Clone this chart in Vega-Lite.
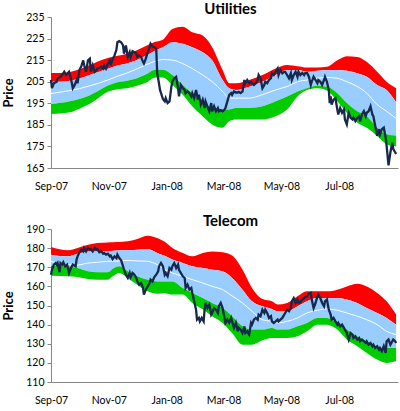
{
  "$schema": "https://vega.github.io/schema/vega-lite/v6.json",
  "padding": {"left": 2, "right": 4, "top": 2, "bottom": 1},
  "config": {
    "view": {"stroke": null},
    "font": "Lato",
    "axis": {"grid": false, "domainColor": "#868686", "tickColor": "#868686", "labelColor": "#000000", "labelFontSize": 10.5, "titleFontSize": 13, "titleFontWeight": "bold", "titleColor": "#000000"},
    "axisY": {"tickSize": 4, "labelPadding": 3, "titlePadding": 10},
    "title": {"fontSize": 15, "fontWeight": "bold", "color": "#000000"},
    "concat": {"spacing": 22}
  },
  "datasets": {
    "util_band": [
      {"date": "2007-09-01", "redTop": 209, "blueTop": 205, "ma": 199.5, "blueBot": 194.5, "greenBot": 190},
      {"date": "2007-09-11", "redTop": 209, "blueTop": 205, "ma": 200.2, "blueBot": 195.2, "greenBot": 190.3},
      {"date": "2007-09-21", "redTop": 209.5, "blueTop": 205.5, "ma": 200.9, "blueBot": 196, "greenBot": 190.8},
      {"date": "2007-10-01", "redTop": 210.8, "blueTop": 206.5, "ma": 201.8, "blueBot": 197, "greenBot": 192.5},
      {"date": "2007-10-11", "redTop": 212.5, "blueTop": 208, "ma": 203, "blueBot": 198.5, "greenBot": 194.5},
      {"date": "2007-10-21", "redTop": 214.5, "blueTop": 209.5, "ma": 204.3, "blueBot": 200.8, "greenBot": 197.5},
      {"date": "2007-10-31", "redTop": 216, "blueTop": 211, "ma": 205.8, "blueBot": 203.2, "greenBot": 200.3},
      {"date": "2007-11-10", "redTop": 217, "blueTop": 212.5, "ma": 207.5, "blueBot": 204.8, "greenBot": 201.5},
      {"date": "2007-11-20", "redTop": 218, "blueTop": 213.5, "ma": 209, "blueBot": 205.5, "greenBot": 202},
      {"date": "2007-11-30", "redTop": 219.5, "blueTop": 215, "ma": 210.8, "blueBot": 206.5, "greenBot": 203},
      {"date": "2007-12-10", "redTop": 221.5, "blueTop": 217, "ma": 212.8, "blueBot": 208.3, "greenBot": 204.5},
      {"date": "2007-12-20", "redTop": 223.5, "blueTop": 219.5, "ma": 214.5, "blueBot": 210.5, "greenBot": 207},
      {"date": "2007-12-28", "redTop": 224.5, "blueTop": 221, "ma": 215.3, "blueBot": 210.5, "greenBot": 207},
      {"date": "2008-01-07", "redTop": 229.4, "blueTop": 223.3, "ma": 215, "blueBot": 208.1, "greenBot": 203.5},
      {"date": "2008-01-18", "redTop": 230.5, "blueTop": 222.6, "ma": 213.4, "blueBot": 203.5, "greenBot": 198.9},
      {"date": "2008-01-28", "redTop": 227.9, "blueTop": 221, "ma": 211.1, "blueBot": 199.7, "greenBot": 193.6},
      {"date": "2008-02-08", "redTop": 226.4, "blueTop": 218.7, "ma": 208.1, "blueBot": 195.9, "greenBot": 189},
      {"date": "2008-02-18", "redTop": 221, "blueTop": 214.9, "ma": 205, "blueBot": 192.8, "greenBot": 185.2},
      {"date": "2008-02-29", "redTop": 210.4, "blueTop": 205.8, "ma": 200.5, "blueBot": 192.1, "greenBot": 183.7},
      {"date": "2008-03-07", "redTop": 204.3, "blueTop": 202, "ma": 197.4, "blueBot": 192.1, "greenBot": 186.7},
      {"date": "2008-03-14", "redTop": 204.3, "blueTop": 201.2, "ma": 197.4, "blueBot": 192.8, "greenBot": 187.5},
      {"date": "2008-03-28", "redTop": 205.8, "blueTop": 202.7, "ma": 197.4, "blueBot": 192.8, "greenBot": 187.5},
      {"date": "2008-04-11", "redTop": 208.1, "blueTop": 205, "ma": 199, "blueBot": 193.6, "greenBot": 187.5},
      {"date": "2008-04-25", "redTop": 211.1, "blueTop": 208.1, "ma": 201.2, "blueBot": 195.9, "greenBot": 189},
      {"date": "2008-05-07", "redTop": 212.7, "blueTop": 210.4, "ma": 202.8, "blueBot": 198.2, "greenBot": 192.1},
      {"date": "2008-05-18", "redTop": 212.2, "blueTop": 210.4, "ma": 205, "blueBot": 200.5, "greenBot": 198.2},
      {"date": "2008-05-28", "redTop": 211.6, "blueTop": 209.6, "ma": 205.8, "blueBot": 202, "greenBot": 201.2},
      {"date": "2008-06-08", "redTop": 211.6, "blueTop": 210.1, "ma": 206.6, "blueBot": 203.1, "greenBot": 202},
      {"date": "2008-06-18", "redTop": 211.9, "blueTop": 210.4, "ma": 207, "blueBot": 202.7, "greenBot": 200.9},
      {"date": "2008-06-29", "redTop": 214.9, "blueTop": 210.4, "ma": 206.6, "blueBot": 199.7, "greenBot": 195.9},
      {"date": "2008-07-09", "redTop": 216.8, "blueTop": 210.1, "ma": 205, "blueBot": 195.1, "greenBot": 190.6},
      {"date": "2008-07-20", "redTop": 216.5, "blueTop": 208.9, "ma": 202.8, "blueBot": 191.3, "greenBot": 186},
      {"date": "2008-07-30", "redTop": 214.2, "blueTop": 207.3, "ma": 199.7, "blueBot": 189, "greenBot": 183.7},
      {"date": "2008-08-10", "redTop": 209.6, "blueTop": 203.5, "ma": 194.4, "blueBot": 183.7, "greenBot": 179.9},
      {"date": "2008-08-20", "redTop": 205, "blueTop": 201.2, "ma": 191.3, "blueBot": 180.6, "greenBot": 176},
      {"date": "2008-08-30", "redTop": 202, "blueTop": 195.5, "ma": 188, "blueBot": 180, "greenBot": 175}
    ],
    "util_price": [
      {"date": "2007-09-01", "price": 205.8}, {"date": "2007-09-02", "price": 202}, {"date": "2007-09-04", "price": 204.3},
      {"date": "2007-09-07", "price": 205}, {"date": "2007-09-08", "price": 206.6}, {"date": "2007-09-11", "price": 207.3},
      {"date": "2007-09-14", "price": 208.9}, {"date": "2007-09-15", "price": 209.6}, {"date": "2007-09-17", "price": 208.1},
      {"date": "2007-09-20", "price": 209.6}, {"date": "2007-09-22", "price": 206.6}, {"date": "2007-09-24", "price": 202},
      {"date": "2007-09-26", "price": 203.5}, {"date": "2007-09-28", "price": 205.8}, {"date": "2007-09-29", "price": 204.3},
      {"date": "2007-10-01", "price": 210.4}, {"date": "2007-10-03", "price": 212.2}, {"date": "2007-10-05", "price": 214.9},
      {"date": "2007-10-06", "price": 212.6}, {"date": "2007-10-08", "price": 209.6}, {"date": "2007-10-10", "price": 214.9},
      {"date": "2007-10-12", "price": 215.7}, {"date": "2007-10-13", "price": 209.6}, {"date": "2007-10-15", "price": 212.6},
      {"date": "2007-10-17", "price": 209.6}, {"date": "2007-10-19", "price": 210.4}, {"date": "2007-10-20", "price": 211.1},
      {"date": "2007-10-24", "price": 211.9}, {"date": "2007-10-26", "price": 211.1}, {"date": "2007-10-27", "price": 212.6},
      {"date": "2007-10-29", "price": 211.1}, {"date": "2007-10-31", "price": 213.4}, {"date": "2007-11-02", "price": 214.9},
      {"date": "2007-11-03", "price": 212.6}, {"date": "2007-11-05", "price": 215.3}, {"date": "2007-11-07", "price": 217.2},
      {"date": "2007-11-09", "price": 219.8}, {"date": "2007-11-10", "price": 223.3}, {"date": "2007-11-12", "price": 223.8},
      {"date": "2007-11-14", "price": 223.3}, {"date": "2007-11-16", "price": 221.8}, {"date": "2007-11-17", "price": 218},
      {"date": "2007-11-19", "price": 221.8}, {"date": "2007-11-21", "price": 216.5}, {"date": "2007-11-23", "price": 218.7},
      {"date": "2007-11-24", "price": 216.5}, {"date": "2007-11-26", "price": 219.2}, {"date": "2007-11-28", "price": 218.7},
      {"date": "2007-11-30", "price": 218}, {"date": "2007-12-01", "price": 216.5}, {"date": "2007-12-03", "price": 217.2},
      {"date": "2007-12-05", "price": 216.5}, {"date": "2007-12-07", "price": 214.2}, {"date": "2007-12-08", "price": 213.4},
      {"date": "2007-12-10", "price": 215.7}, {"date": "2007-12-12", "price": 218.7}, {"date": "2007-12-14", "price": 221},
      {"date": "2007-12-15", "price": 222.6}, {"date": "2007-12-17", "price": 221.3}, {"date": "2007-12-19", "price": 221},
      {"date": "2007-12-21", "price": 220.3}, {"date": "2007-12-22", "price": 208.9}, {"date": "2007-12-23", "price": 206.6},
      {"date": "2007-12-25", "price": 201.2}, {"date": "2007-12-28", "price": 197}, {"date": "2007-12-30", "price": 195.9},
      {"date": "2007-12-31", "price": 197.4}, {"date": "2008-01-02", "price": 195.1}, {"date": "2008-01-04", "price": 195.9},
      {"date": "2008-01-06", "price": 202.8}, {"date": "2008-01-07", "price": 205}, {"date": "2008-01-09", "price": 206.6},
      {"date": "2008-01-11", "price": 207.3}, {"date": "2008-01-13", "price": 202}, {"date": "2008-01-14", "price": 198.2},
      {"date": "2008-01-16", "price": 203.5}, {"date": "2008-01-18", "price": 202}, {"date": "2008-01-20", "price": 201.2},
      {"date": "2008-01-21", "price": 199.7}, {"date": "2008-01-23", "price": 200.5}, {"date": "2008-01-25", "price": 199.7},
      {"date": "2008-01-27", "price": 198.2}, {"date": "2008-01-28", "price": 199.7}, {"date": "2008-01-30", "price": 197.4},
      {"date": "2008-02-01", "price": 201.2}, {"date": "2008-02-03", "price": 196.7}, {"date": "2008-02-04", "price": 199},
      {"date": "2008-02-06", "price": 194.4}, {"date": "2008-02-08", "price": 196.7}, {"date": "2008-02-10", "price": 192.8},
      {"date": "2008-02-11", "price": 195.9}, {"date": "2008-02-13", "price": 193.6}, {"date": "2008-02-15", "price": 191.3},
      {"date": "2008-02-17", "price": 195.1}, {"date": "2008-02-18", "price": 191.3}, {"date": "2008-02-20", "price": 193.6},
      {"date": "2008-02-22", "price": 191.3}, {"date": "2008-02-24", "price": 192.8}, {"date": "2008-02-25", "price": 191.3},
      {"date": "2008-02-27", "price": 191.8}, {"date": "2008-02-29", "price": 191.3}, {"date": "2008-03-02", "price": 192.1},
      {"date": "2008-03-03", "price": 192.8}, {"date": "2008-03-05", "price": 195.9}, {"date": "2008-03-07", "price": 198.9},
      {"date": "2008-03-09", "price": 199.7}, {"date": "2008-03-10", "price": 198.9}, {"date": "2008-03-12", "price": 200.5},
      {"date": "2008-03-14", "price": 200}, {"date": "2008-03-16", "price": 200}, {"date": "2008-03-17", "price": 200.3},
      {"date": "2008-03-19", "price": 199.7}, {"date": "2008-03-21", "price": 200.5}, {"date": "2008-03-23", "price": 205.8},
      {"date": "2008-03-24", "price": 204.3}, {"date": "2008-03-26", "price": 205.8}, {"date": "2008-03-28", "price": 204.3},
      {"date": "2008-03-30", "price": 205}, {"date": "2008-03-31", "price": 204.3}, {"date": "2008-04-02", "price": 203.5},
      {"date": "2008-04-04", "price": 204.3}, {"date": "2008-04-06", "price": 205.8}, {"date": "2008-04-07", "price": 208.1},
      {"date": "2008-04-09", "price": 206.6}, {"date": "2008-04-11", "price": 202}, {"date": "2008-04-13", "price": 203.5},
      {"date": "2008-04-14", "price": 205}, {"date": "2008-04-16", "price": 204.3}, {"date": "2008-04-18", "price": 205.8},
      {"date": "2008-04-20", "price": 206.6}, {"date": "2008-04-21", "price": 208.9}, {"date": "2008-04-23", "price": 208.1},
      {"date": "2008-04-25", "price": 209.6}, {"date": "2008-04-27", "price": 211.1}, {"date": "2008-04-28", "price": 208.1},
      {"date": "2008-04-30", "price": 210.4}, {"date": "2008-05-02", "price": 208.9}, {"date": "2008-05-04", "price": 209.6},
      {"date": "2008-05-05", "price": 209.6}, {"date": "2008-05-07", "price": 208.1}, {"date": "2008-05-09", "price": 206.6},
      {"date": "2008-05-11", "price": 208.9}, {"date": "2008-05-12", "price": 205.8}, {"date": "2008-05-14", "price": 208.1},
      {"date": "2008-05-16", "price": 209.6}, {"date": "2008-05-18", "price": 207.3}, {"date": "2008-05-19", "price": 209.6},
      {"date": "2008-05-21", "price": 208.1}, {"date": "2008-05-23", "price": 209.1}, {"date": "2008-05-25", "price": 208.1},
      {"date": "2008-05-26", "price": 208.9}, {"date": "2008-05-28", "price": 209.1}, {"date": "2008-05-30", "price": 207.3},
      {"date": "2008-06-01", "price": 203.5}, {"date": "2008-06-02", "price": 205}, {"date": "2008-06-04", "price": 207.3},
      {"date": "2008-06-06", "price": 205.8}, {"date": "2008-06-08", "price": 204.3}, {"date": "2008-06-09", "price": 205.8},
      {"date": "2008-06-11", "price": 205}, {"date": "2008-06-13", "price": 203.5}, {"date": "2008-06-15", "price": 205.8},
      {"date": "2008-06-16", "price": 207.3}, {"date": "2008-06-18", "price": 205}, {"date": "2008-06-20", "price": 201.2},
      {"date": "2008-06-21", "price": 195.1}, {"date": "2008-06-22", "price": 198.2}, {"date": "2008-06-23", "price": 194.4},
      {"date": "2008-06-25", "price": 196.7}, {"date": "2008-06-27", "price": 197.4}, {"date": "2008-06-29", "price": 192.1},
      {"date": "2008-06-30", "price": 189.8}, {"date": "2008-07-02", "price": 192.8}, {"date": "2008-07-04", "price": 190.6},
      {"date": "2008-07-06", "price": 192.1}, {"date": "2008-07-07", "price": 187.5}, {"date": "2008-07-09", "price": 185.2},
      {"date": "2008-07-11", "price": 190.6}, {"date": "2008-07-13", "price": 188.3}, {"date": "2008-07-15", "price": 187.5},
      {"date": "2008-07-16", "price": 188.3}, {"date": "2008-07-18", "price": 186.7}, {"date": "2008-07-20", "price": 188.3},
      {"date": "2008-07-22", "price": 189}, {"date": "2008-07-23", "price": 186.7}, {"date": "2008-07-25", "price": 189.8},
      {"date": "2008-07-27", "price": 191.3}, {"date": "2008-07-29", "price": 189}, {"date": "2008-07-30", "price": 190.6},
      {"date": "2008-08-01", "price": 191.3}, {"date": "2008-08-03", "price": 193.6}, {"date": "2008-08-05", "price": 189.8},
      {"date": "2008-08-06", "price": 189}, {"date": "2008-08-08", "price": 184.5}, {"date": "2008-08-10", "price": 179.9},
      {"date": "2008-08-12", "price": 183}, {"date": "2008-08-13", "price": 180.6}, {"date": "2008-08-15", "price": 183},
      {"date": "2008-08-17", "price": 183.7}, {"date": "2008-08-19", "price": 179.1}, {"date": "2008-08-20", "price": 175.3},
      {"date": "2008-08-22", "price": 166.2}, {"date": "2008-08-24", "price": 172.3}, {"date": "2008-08-26", "price": 176.8},
      {"date": "2008-08-27", "price": 173.8}, {"date": "2008-08-29", "price": 172.3}, {"date": "2008-08-30", "price": 171.5}
    ],
    "tel_band": [
      {"date": "2007-09-01", "redTop": 180.6, "blueTop": 176.6, "ma": 173.1, "blueBot": 170.8, "greenBot": 165.6},
      {"date": "2007-09-19", "redTop": 178.9, "blueTop": 175.7, "ma": 171.4, "blueBot": 170.5, "greenBot": 165.3},
      {"date": "2007-09-29", "redTop": 180.1, "blueTop": 177, "ma": 171.2, "blueBot": 169.6, "greenBot": 164.9},
      {"date": "2007-10-10", "redTop": 181.8, "blueTop": 178.3, "ma": 172.2, "blueBot": 167.9, "greenBot": 163.9},
      {"date": "2007-10-20", "redTop": 182.7, "blueTop": 178.3, "ma": 172.6, "blueBot": 167.4, "greenBot": 163.5},
      {"date": "2007-10-31", "redTop": 183, "blueTop": 178.3, "ma": 173.1, "blueBot": 167.4, "greenBot": 163.5},
      {"date": "2007-11-06", "redTop": 183.1, "blueTop": 178.6, "ma": 173.2, "blueBot": 169.5, "greenBot": 165.5},
      {"date": "2007-11-12", "redTop": 183.2, "blueTop": 178.9, "ma": 173.3, "blueBot": 170.5, "greenBot": 167},
      {"date": "2007-11-18", "redTop": 183.4, "blueTop": 178.9, "ma": 173.5, "blueBot": 169, "greenBot": 165.5},
      {"date": "2007-11-24", "redTop": 183.8, "blueTop": 179, "ma": 173.5, "blueBot": 167, "greenBot": 163.2},
      {"date": "2007-12-01", "redTop": 184.8, "blueTop": 179.2, "ma": 173.3, "blueBot": 165.3, "greenBot": 160.9},
      {"date": "2007-12-12", "redTop": 186.5, "blueTop": 179.5, "ma": 173.1, "blueBot": 163.5, "greenBot": 157.4},
      {"date": "2007-12-22", "redTop": 185.3, "blueTop": 177.5, "ma": 171.4, "blueBot": 162.6, "greenBot": 156.2},
      {"date": "2007-12-30", "redTop": 183.3, "blueTop": 176, "ma": 168.9, "blueBot": 162.5, "greenBot": 156.4},
      {"date": "2008-01-07", "redTop": 180.1, "blueTop": 174, "ma": 167, "blueBot": 162.6, "greenBot": 155.7},
      {"date": "2008-01-18", "redTop": 177.5, "blueTop": 172.2, "ma": 165.3, "blueBot": 159.2, "greenBot": 155.7},
      {"date": "2008-01-28", "redTop": 175.7, "blueTop": 170.5, "ma": 163.5, "blueBot": 156.6, "greenBot": 151.3},
      {"date": "2008-02-08", "redTop": 177.5, "blueTop": 169.6, "ma": 161.8, "blueBot": 153.9, "greenBot": 148},
      {"date": "2008-02-18", "redTop": 178.3, "blueTop": 168.7, "ma": 160, "blueBot": 151.3, "greenBot": 144.4},
      {"date": "2008-02-29", "redTop": 177.8, "blueTop": 167.9, "ma": 158.3, "blueBot": 148.7, "greenBot": 140.9},
      {"date": "2008-03-10", "redTop": 176.1, "blueTop": 164.4, "ma": 155, "blueBot": 144.4, "greenBot": 135.6},
      {"date": "2008-03-21", "redTop": 168.7, "blueTop": 158.3, "ma": 151.3, "blueBot": 139.1, "greenBot": 129.5},
      {"date": "2008-03-31", "redTop": 159.2, "blueTop": 152.2, "ma": 147, "blueBot": 137.4, "greenBot": 129.5},
      {"date": "2008-04-11", "redTop": 153.4, "blueTop": 149.6, "ma": 142.6, "blueBot": 137.4, "greenBot": 131.8},
      {"date": "2008-04-21", "redTop": 152.2, "blueTop": 148.2, "ma": 141.7, "blueBot": 138.3, "greenBot": 133},
      {"date": "2008-04-27", "redTop": 150.5, "blueTop": 147, "ma": 140.9, "blueBot": 137.4, "greenBot": 133},
      {"date": "2008-05-07", "redTop": 151.3, "blueTop": 147, "ma": 141.7, "blueBot": 137.4, "greenBot": 133},
      {"date": "2008-05-18", "redTop": 154.8, "blueTop": 149.6, "ma": 143.5, "blueBot": 139.1, "greenBot": 133.9},
      {"date": "2008-05-28", "redTop": 157.4, "blueTop": 152.2, "ma": 146.1, "blueBot": 140.9, "greenBot": 136.5},
      {"date": "2008-06-08", "redTop": 157.4, "blueTop": 153.9, "ma": 147.5, "blueBot": 143.5, "greenBot": 140},
      {"date": "2008-06-18", "redTop": 157.4, "blueTop": 153.9, "ma": 148.2, "blueBot": 143.5, "greenBot": 140},
      {"date": "2008-06-29", "redTop": 158.3, "blueTop": 153.9, "ma": 147.5, "blueBot": 140.9, "greenBot": 137.4},
      {"date": "2008-07-09", "redTop": 160, "blueTop": 153.1, "ma": 146.1, "blueBot": 137.4, "greenBot": 132.2},
      {"date": "2008-07-20", "redTop": 161.4, "blueTop": 151.3, "ma": 144.4, "blueBot": 133.9, "greenBot": 128.7},
      {"date": "2008-07-30", "redTop": 160, "blueTop": 148.7, "ma": 142.6, "blueBot": 131.3, "greenBot": 125.2},
      {"date": "2008-08-10", "redTop": 156.6, "blueTop": 146.1, "ma": 140, "blueBot": 128.7, "greenBot": 121.7},
      {"date": "2008-08-20", "redTop": 152.2, "blueTop": 143.5, "ma": 136.5, "blueBot": 127.8, "greenBot": 120},
      {"date": "2008-08-30", "redTop": 145.3, "blueTop": 140, "ma": 134.8, "blueBot": 127.8, "greenBot": 120.8}
    ],
    "tel_price": [
      {"date": "2007-09-01", "price": 166.1}, {"date": "2007-09-02", "price": 168.7}, {"date": "2007-09-04", "price": 171.4},
      {"date": "2007-09-06", "price": 172.2}, {"date": "2007-09-07", "price": 171.4}, {"date": "2007-09-08", "price": 172.2},
      {"date": "2007-09-10", "price": 167.4}, {"date": "2007-09-11", "price": 172.2}, {"date": "2007-09-13", "price": 171.4},
      {"date": "2007-09-14", "price": 172.6}, {"date": "2007-09-16", "price": 170.5}, {"date": "2007-09-18", "price": 171.4},
      {"date": "2007-09-20", "price": 167}, {"date": "2007-09-22", "price": 169.6}, {"date": "2007-09-24", "price": 171.4},
      {"date": "2007-09-27", "price": 170.5}, {"date": "2007-09-28", "price": 174}, {"date": "2007-09-29", "price": 175.7},
      {"date": "2007-10-01", "price": 177.8}, {"date": "2007-10-03", "price": 179.2}, {"date": "2007-10-05", "price": 178.3},
      {"date": "2007-10-06", "price": 180.1}, {"date": "2007-10-08", "price": 178.3}, {"date": "2007-10-10", "price": 180.1},
      {"date": "2007-10-12", "price": 179.2}, {"date": "2007-10-13", "price": 179.5}, {"date": "2007-10-15", "price": 178.3},
      {"date": "2007-10-17", "price": 180.1}, {"date": "2007-10-19", "price": 179.2}, {"date": "2007-10-20", "price": 179.5},
      {"date": "2007-10-22", "price": 177.8}, {"date": "2007-10-24", "price": 178.3}, {"date": "2007-10-26", "price": 177.1},
      {"date": "2007-10-27", "price": 177.5}, {"date": "2007-10-29", "price": 176.6}, {"date": "2007-10-31", "price": 177.1},
      {"date": "2007-11-02", "price": 175.7}, {"date": "2007-11-03", "price": 176.1}, {"date": "2007-11-05", "price": 174.3},
      {"date": "2007-11-07", "price": 175.7}, {"date": "2007-11-09", "price": 174.8}, {"date": "2007-11-10", "price": 176.6},
      {"date": "2007-11-12", "price": 174.8}, {"date": "2007-11-14", "price": 173.6}, {"date": "2007-11-16", "price": 170.5},
      {"date": "2007-11-17", "price": 168.7}, {"date": "2007-11-19", "price": 166.1}, {"date": "2007-11-21", "price": 164.4},
      {"date": "2007-11-23", "price": 167}, {"date": "2007-11-24", "price": 164.9}, {"date": "2007-11-26", "price": 167},
      {"date": "2007-11-28", "price": 166.1}, {"date": "2007-11-30", "price": 164.4}, {"date": "2007-12-01", "price": 162.6},
      {"date": "2007-12-03", "price": 160.9}, {"date": "2007-12-05", "price": 161.8}, {"date": "2007-12-07", "price": 159.2},
      {"date": "2007-12-08", "price": 155.7}, {"date": "2007-12-10", "price": 158.3}, {"date": "2007-12-12", "price": 160},
      {"date": "2007-12-14", "price": 161.8}, {"date": "2007-12-15", "price": 163.5}, {"date": "2007-12-17", "price": 162.6},
      {"date": "2007-12-19", "price": 164.9}, {"date": "2007-12-21", "price": 166.1}, {"date": "2007-12-23", "price": 167.9},
      {"date": "2007-12-24", "price": 170.5}, {"date": "2007-12-26", "price": 172.2}, {"date": "2007-12-28", "price": 170.5},
      {"date": "2007-12-30", "price": 166.1}, {"date": "2007-12-31", "price": 167}, {"date": "2008-01-02", "price": 165.3},
      {"date": "2008-01-04", "price": 169.6}, {"date": "2008-01-06", "price": 168.7}, {"date": "2008-01-07", "price": 170.5},
      {"date": "2008-01-09", "price": 172.2}, {"date": "2008-01-11", "price": 169.6}, {"date": "2008-01-13", "price": 171.4},
      {"date": "2008-01-14", "price": 168.7}, {"date": "2008-01-16", "price": 167}, {"date": "2008-01-18", "price": 165.3},
      {"date": "2008-01-20", "price": 164.4}, {"date": "2008-01-21", "price": 159.2}, {"date": "2008-01-23", "price": 160.9},
      {"date": "2008-01-25", "price": 158.3}, {"date": "2008-01-27", "price": 159.2}, {"date": "2008-01-28", "price": 156.6},
      {"date": "2008-01-30", "price": 152.2}, {"date": "2008-02-01", "price": 147.8}, {"date": "2008-02-02", "price": 142.6},
      {"date": "2008-02-04", "price": 143.5}, {"date": "2008-02-05", "price": 141.7}, {"date": "2008-02-07", "price": 143.5},
      {"date": "2008-02-09", "price": 141.7}, {"date": "2008-02-10", "price": 147.8}, {"date": "2008-02-11", "price": 151.3},
      {"date": "2008-02-13", "price": 148.7}, {"date": "2008-02-15", "price": 150.5}, {"date": "2008-02-17", "price": 145.2},
      {"date": "2008-02-18", "price": 146.1}, {"date": "2008-02-20", "price": 148.7}, {"date": "2008-02-22", "price": 147.8},
      {"date": "2008-02-24", "price": 146.1}, {"date": "2008-02-25", "price": 149.6}, {"date": "2008-02-27", "price": 151.3},
      {"date": "2008-02-29", "price": 148.7}, {"date": "2008-03-02", "price": 143.5}, {"date": "2008-03-03", "price": 140.9},
      {"date": "2008-03-05", "price": 142.6}, {"date": "2008-03-07", "price": 140.9}, {"date": "2008-03-09", "price": 143.5},
      {"date": "2008-03-10", "price": 141.7}, {"date": "2008-03-12", "price": 138.3}, {"date": "2008-03-14", "price": 140.9},
      {"date": "2008-03-16", "price": 136.5}, {"date": "2008-03-17", "price": 138.3}, {"date": "2008-03-19", "price": 137.4},
      {"date": "2008-03-21", "price": 135.6}, {"date": "2008-03-23", "price": 139.1}, {"date": "2008-03-24", "price": 135.6},
      {"date": "2008-03-26", "price": 136.5}, {"date": "2008-03-28", "price": 134.8}, {"date": "2008-03-30", "price": 140.9},
      {"date": "2008-03-31", "price": 140}, {"date": "2008-04-02", "price": 142.6}, {"date": "2008-04-04", "price": 143.5},
      {"date": "2008-04-06", "price": 142.6}, {"date": "2008-04-07", "price": 145.2}, {"date": "2008-04-09", "price": 144.4},
      {"date": "2008-04-11", "price": 147.8}, {"date": "2008-04-13", "price": 146.1}, {"date": "2008-04-14", "price": 147.8},
      {"date": "2008-04-16", "price": 146.1}, {"date": "2008-04-18", "price": 143.5}, {"date": "2008-04-20", "price": 144.4},
      {"date": "2008-04-21", "price": 141.7}, {"date": "2008-04-23", "price": 140.9}, {"date": "2008-04-25", "price": 141.7},
      {"date": "2008-04-27", "price": 142.6}, {"date": "2008-04-28", "price": 141.7}, {"date": "2008-04-30", "price": 142.6},
      {"date": "2008-05-02", "price": 143.5}, {"date": "2008-05-04", "price": 145.2}, {"date": "2008-05-05", "price": 146.1},
      {"date": "2008-05-07", "price": 147.8}, {"date": "2008-05-09", "price": 147}, {"date": "2008-05-11", "price": 148.7},
      {"date": "2008-05-12", "price": 152.2}, {"date": "2008-05-14", "price": 153.9}, {"date": "2008-05-16", "price": 151.3},
      {"date": "2008-05-18", "price": 153.1}, {"date": "2008-05-19", "price": 151.3}, {"date": "2008-05-21", "price": 151.7},
      {"date": "2008-05-23", "price": 153.1}, {"date": "2008-05-25", "price": 153.9}, {"date": "2008-05-26", "price": 154.4},
      {"date": "2008-05-28", "price": 154.8}, {"date": "2008-05-30", "price": 156.2}, {"date": "2008-06-01", "price": 156.6},
      {"date": "2008-06-02", "price": 153.1}, {"date": "2008-06-04", "price": 148.7}, {"date": "2008-06-06", "price": 151.3},
      {"date": "2008-06-08", "price": 154.8}, {"date": "2008-06-09", "price": 155.7}, {"date": "2008-06-11", "price": 153.9},
      {"date": "2008-06-13", "price": 151.3}, {"date": "2008-06-15", "price": 149.6}, {"date": "2008-06-16", "price": 152.2},
      {"date": "2008-06-18", "price": 153.1}, {"date": "2008-06-20", "price": 147.8}, {"date": "2008-06-22", "price": 145.2},
      {"date": "2008-06-23", "price": 142.6}, {"date": "2008-06-25", "price": 143.5}, {"date": "2008-06-27", "price": 141.7},
      {"date": "2008-06-29", "price": 140}, {"date": "2008-06-30", "price": 140.9}, {"date": "2008-07-02", "price": 139.1},
      {"date": "2008-07-04", "price": 140}, {"date": "2008-07-06", "price": 138.3}, {"date": "2008-07-07", "price": 137.4},
      {"date": "2008-07-09", "price": 135.6}, {"date": "2008-07-11", "price": 132.2}, {"date": "2008-07-13", "price": 135.6},
      {"date": "2008-07-15", "price": 134.8}, {"date": "2008-07-16", "price": 133}, {"date": "2008-07-18", "price": 133.9},
      {"date": "2008-07-20", "price": 132.2}, {"date": "2008-07-22", "price": 133}, {"date": "2008-07-23", "price": 131.3},
      {"date": "2008-07-25", "price": 132.2}, {"date": "2008-07-27", "price": 131.3}, {"date": "2008-07-29", "price": 130.4},
      {"date": "2008-07-30", "price": 131.3}, {"date": "2008-08-01", "price": 129.5}, {"date": "2008-08-03", "price": 130.4},
      {"date": "2008-08-05", "price": 128.7}, {"date": "2008-08-06", "price": 129.5}, {"date": "2008-08-08", "price": 127.8},
      {"date": "2008-08-10", "price": 128.7}, {"date": "2008-08-12", "price": 126.9}, {"date": "2008-08-13", "price": 127.8},
      {"date": "2008-08-15", "price": 126.1}, {"date": "2008-08-17", "price": 128.7}, {"date": "2008-08-19", "price": 125.2},
      {"date": "2008-08-20", "price": 131.3}, {"date": "2008-08-22", "price": 132.2}, {"date": "2008-08-24", "price": 129.5},
      {"date": "2008-08-26", "price": 131.3}, {"date": "2008-08-27", "price": 132.2}, {"date": "2008-08-29", "price": 131.3},
      {"date": "2008-08-30", "price": 130.4}
    ]
  },
  "vconcat": [
    {
      "width": 347,
      "height": 151,
      "title": {"text": "Utilities", "anchor": "middle", "dx": 6, "offset": -5},
      "encoding": {
        "x": {
          "field": "date", "type": "temporal", "title": null,
          "scale": {"domain": [{"year": 2007, "month": "September", "date": 1}, {"year": 2008, "month": "September", "date": 1}]},
          "axis": {
            "format": "%b-%y", "labelFlush": false, "ticks": false, "labelPadding": 13, "labelOverlap": false,
            "values": [
              {"year": 2007, "month": "September", "date": 1}, {"year": 2007, "month": "November", "date": 1},
              {"year": 2008, "month": "January", "date": 1}, {"year": 2008, "month": "March", "date": 1},
              {"year": 2008, "month": "May", "date": 1}, {"year": 2008, "month": "July", "date": 1}
            ]
          }
        }
      },
      "layer": [
        {
          "data": {"name": "util_band"},
          "mark": {"type": "area", "color": "#FF0000", "interpolate": "monotone", "opacity": 1},
          "encoding": {
            "y": {"field": "redTop", "type": "quantitative", "title": "Price",
                  "scale": {"domain": [165, 235], "nice": false, "zero": false},
                  "axis": {"values": [165, 175, 185, 195, 205, 215, 225, 235]}},
            "y2": {"field": "blueTop"}
          }
        },
        {
          "data": {"name": "util_band"},
          "mark": {"type": "area", "color": "#99CCFF", "interpolate": "monotone", "opacity": 1},
          "encoding": {"y": {"field": "blueTop", "type": "quantitative", "title": "Price", "axis": {"values": [165, 175, 185, 195, 205, 215, 225, 235]}}, "y2": {"field": "blueBot"}}
        },
        {
          "data": {"name": "util_band"},
          "mark": {"type": "area", "color": "#00CC00", "interpolate": "monotone", "opacity": 1},
          "encoding": {"y": {"field": "blueBot", "type": "quantitative", "title": "Price", "axis": {"values": [165, 175, 185, 195, 205, 215, 225, 235]}}, "y2": {"field": "greenBot"}}
        },
        {
          "data": {"name": "util_band"},
          "mark": {"type": "line", "color": "#FFFFFF", "strokeWidth": 1, "interpolate": "monotone"},
          "encoding": {"y": {"field": "ma", "type": "quantitative", "title": "Price", "axis": {"values": [165, 175, 185, 195, 205, 215, 225, 235]}}}
        },
        {
          "data": {"name": "util_price"},
          "mark": {"type": "line", "color": "#17284A", "strokeWidth": 2.3},
          "encoding": {"y": {"field": "price", "type": "quantitative", "title": "Price", "axis": {"values": [165, 175, 185, 195, 205, 215, 225, 235]}}}
        }
      ]
    },
    {
      "width": 347,
      "height": 153,
      "title": {"text": "Telecom", "anchor": "middle", "dx": 6, "offset": -5},
      "encoding": {
        "x": {
          "field": "date", "type": "temporal", "title": null,
          "scale": {"domain": [{"year": 2007, "month": "September", "date": 1}, {"year": 2008, "month": "September", "date": 1}]},
          "axis": {
            "format": "%b-%y", "labelFlush": false, "ticks": false, "labelPadding": 13, "labelOverlap": false,
            "values": [
              {"year": 2007, "month": "September", "date": 1}, {"year": 2007, "month": "November", "date": 1},
              {"year": 2008, "month": "January", "date": 1}, {"year": 2008, "month": "March", "date": 1},
              {"year": 2008, "month": "May", "date": 1}, {"year": 2008, "month": "July", "date": 1}
            ]
          }
        }
      },
      "layer": [
        {
          "data": {"name": "tel_band"},
          "mark": {"type": "area", "color": "#FF0000", "interpolate": "monotone", "opacity": 1},
          "encoding": {
            "y": {"field": "redTop", "type": "quantitative", "title": "Price",
                  "scale": {"domain": [110, 190], "nice": false, "zero": false},
                  "axis": {"values": [110, 120, 130, 140, 150, 160, 170, 180, 190]}},
            "y2": {"field": "blueTop"}
          }
        },
        {
          "data": {"name": "tel_band"},
          "mark": {"type": "area", "color": "#99CCFF", "interpolate": "monotone", "opacity": 1},
          "encoding": {"y": {"field": "blueTop", "type": "quantitative", "title": "Price", "axis": {"values": [110, 120, 130, 140, 150, 160, 170, 180, 190]}}, "y2": {"field": "blueBot"}}
        },
        {
          "data": {"name": "tel_band"},
          "mark": {"type": "area", "color": "#00CC00", "interpolate": "monotone", "opacity": 1},
          "encoding": {"y": {"field": "blueBot", "type": "quantitative", "title": "Price", "axis": {"values": [110, 120, 130, 140, 150, 160, 170, 180, 190]}}, "y2": {"field": "greenBot"}}
        },
        {
          "data": {"name": "tel_band"},
          "mark": {"type": "line", "color": "#FFFFFF", "strokeWidth": 1, "interpolate": "monotone"},
          "encoding": {"y": {"field": "ma", "type": "quantitative", "title": "Price", "axis": {"values": [110, 120, 130, 140, 150, 160, 170, 180, 190]}}}
        },
        {
          "data": {"name": "tel_price"},
          "mark": {"type": "line", "color": "#17284A", "strokeWidth": 2.3},
          "encoding": {"y": {"field": "price", "type": "quantitative", "title": "Price", "axis": {"values": [110, 120, 130, 140, 150, 160, 170, 180, 190]}}}
        }
      ]
    }
  ]
}
